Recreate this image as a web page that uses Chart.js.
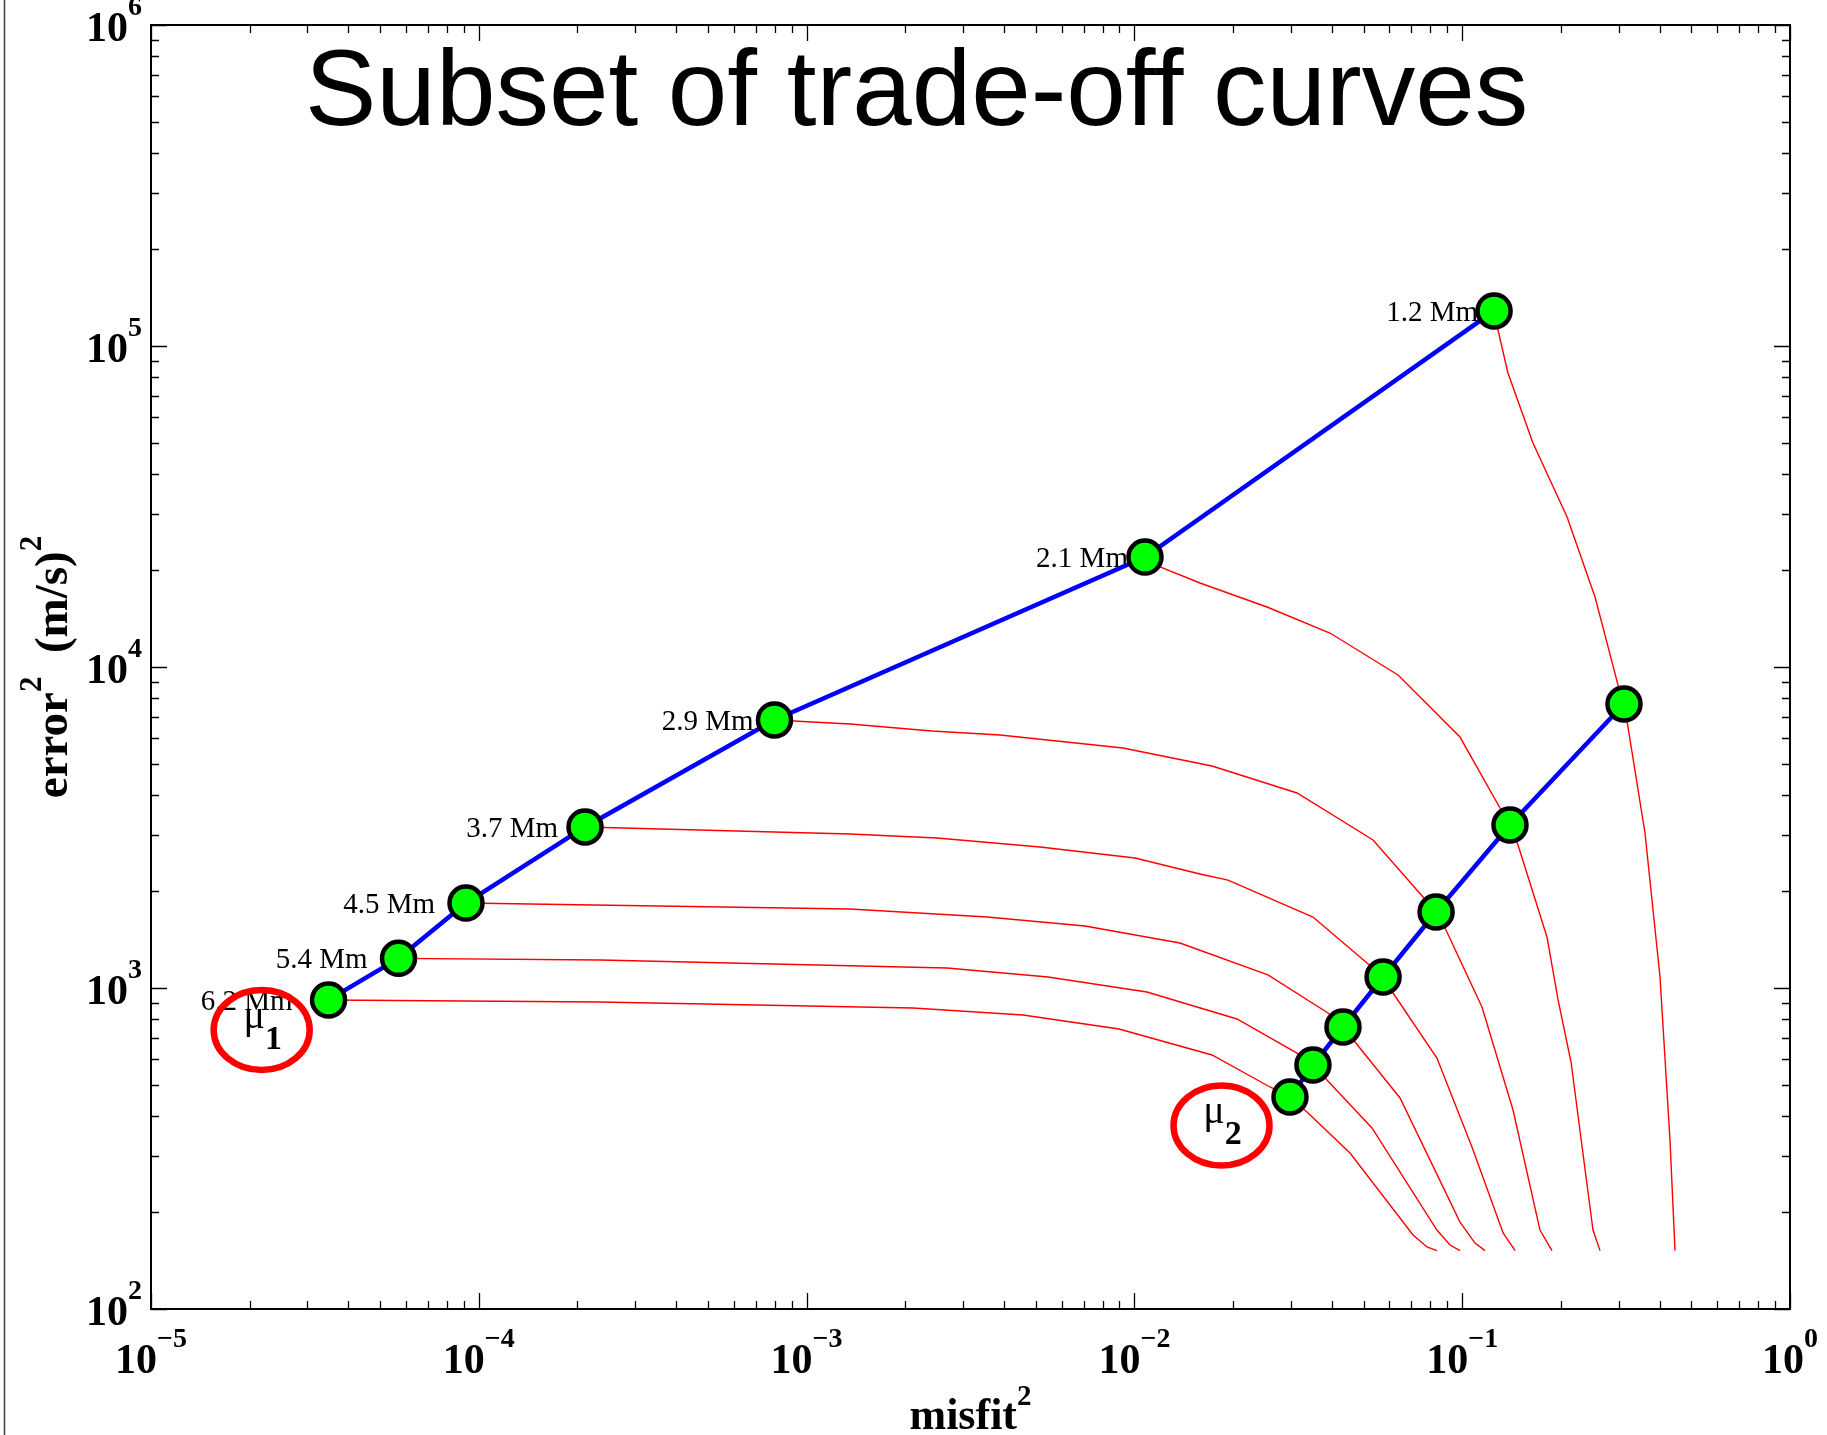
<!DOCTYPE html>
<html>
<head>
<meta charset="utf-8">
<script src="https://cdn.jsdelivr.net/npm/chart.js@4/dist/chart.umd.min.js"></script>
<style>
html,body{margin:0;padding:0;background:#fff;}
canvas{display:block;}
</style>
</head>
<body>
<canvas id="c" width="1827" height="1435"></canvas>
<script>
// ---------------- DATA ----------------
const chartTitle = 'Subset of trade-off curves';
const xTitleParts = ['misfit', '2'];
const yTitleParts = ['error', '2', '  (m/s)', '2'];

const xTickValues = [1e-5, 1e-4, 1e-3, 1e-2, 1e-1, 1];
const xTickLabels = ['10^−5', '10^−4', '10^−3', '10^−2', '10^−1', '10^0'];
const yTickValues = [1e2, 1e3, 1e4, 1e5, 1e6];
const yTickLabels = ['10^2', '10^3', '10^4', '10^5', '10^6'];

const rangeLabels = ['1.2 Mm', '2.1 Mm', '2.9 Mm', '3.7 Mm', '4.5 Mm', '5.4 Mm', '6.2 Mm'];
const upperMisfit = [0.1251, 0.01077, 0.000798, 0.0002109, 0.0000914, 0.0000569, 0.0000348];
const upperError  = [128600, 22000, 6840, 3175, 1839, 1237, 918];
const lowerMisfit = [0.3116, 0.1399, 0.08324, 0.05737, 0.04328, 0.03505, 0.02983];
const lowerError  = [7667, 3219, 1725, 1082, 756, 575.6, 457.5];

// trade-off curves (one per range)
const curve12Misfit = [0.1251, 0.1286, 0.1379, 0.1644, 0.2089, 0.2542, 0.2987, 0.3116, 0.3204, 0.3611, 0.4013, 0.4304, 0.4459];
const curve12Error  = [128600, 112100, 82400, 49860, 29330, 16530, 8788, 7667, 6505, 3040, 1082, 336, 152];
const curve21Misfit = [0.01077, 0.01197, 0.01585, 0.02538, 0.0395, 0.06372, 0.09846, 0.1304, 0.1399, 0.1480, 0.1814, 0.1961, 0.2148, 0.2506, 0.2633];
const curve21Error  = [22000, 20490, 18270, 15380, 12760, 9443, 6051, 3637, 3219, 2789, 1442, 918, 588, 176.2, 152];
const curve29Misfit = [0.000798, 0.001357, 0.002413, 0.003891, 0.00923, 0.01725, 0.03134, 0.05345, 0.07594, 0.08324, 0.08864, 0.1149, 0.1429, 0.1727, 0.1879];
const curve29Error  = [6840, 6644, 6318, 6140, 5593, 4915, 4050, 2891, 1920, 1725, 1538, 872.8, 416.8, 176.2, 152];
const curve37Misfit = [0.0002109, 0.001357, 0.002499, 0.005154, 0.01004, 0.01585, 0.0193, 0.03505, 0.05124, 0.05737, 0.06152, 0.08373, 0.1071, 0.1333, 0.145];
const curve37Error  = [3175, 3018, 2933, 2750, 2541, 2265, 2169, 1664, 1196, 1082, 964.7, 605, 319.6, 172.5, 152];
const curve45Misfit = [0.0000914, 0.001357, 0.003551, 0.007069, 0.01377, 0.02555, 0.03895, 0.04328, 0.0471, 0.06462, 0.09846, 0.1094, 0.1174];
const curve45Error  = [1839, 1763, 1664, 1560, 1381, 1098, 835.9, 756, 678.6, 454.3, 186.6, 160.5, 152];
const curve54Misfit = [0.0000569, 0.0002343, 0.002682, 0.00545, 0.01092, 0.02056, 0.03134, 0.03505, 0.03868, 0.05306, 0.08373, 0.09179, 0.09846];
const curve54Error  = [1237, 1222, 1154, 1082, 971.7, 800.7, 627, 575.6, 516.9, 366.4, 176.2, 158.2, 152];
const curve62Misfit = [0.00003055, 0.0000348, 0.0002343, 0.002112, 0.004573, 0.008975, 0.01725, 0.02592, 0.02983, 0.03361, 0.04547, 0.07079, 0.0781, 0.08373];
const curve62Error  = [918, 918, 904.4, 866.6, 823.9, 745, 618.4, 491.6, 457.5, 410.9, 306.2, 170.1, 156, 152];

// circled annotations
const muSubscripts = ['1', '2'];
const muMisfit = [0.00002176, 0.01844];
const muError  = [740, 373];

// ---------------- STYLE ----------------
const labelGap = [16, 17, 21, 27, 31, 31, 36];
const SERIF = '"Liberation Serif", "Times New Roman", serif';
const SANS = '"Liberation Sans", Arial, sans-serif';

function pts(xs, ys) { return xs.map((v, i) => ({ x: v, y: ys[i] })); }

const curves = [
  [curve12Misfit, curve12Error], [curve21Misfit, curve21Error], [curve29Misfit, curve29Error],
  [curve37Misfit, curve37Error], [curve45Misfit, curve45Error], [curve54Misfit, curve54Error],
  [curve62Misfit, curve62Error]
];

const markerStyle = {
  showLine: true, borderColor: '#0000ff', borderWidth: 4.5,
  pointRadius: 16.5, pointBorderWidth: 4.5, pointBackgroundColor: '#00ff00',
  pointBorderColor: '#000000', order: 0, tension: 0
};

const datasets = [
  Object.assign({ label: 'upper', data: pts(upperMisfit, upperError) }, markerStyle),
  Object.assign({ label: 'lower', data: pts(lowerMisfit, lowerError) }, markerStyle)
].concat(curves.map((c, i) => ({
  label: 'curve ' + rangeLabels[i], data: pts(c[0], c[1]), showLine: true,
  borderColor: '#ff0000', borderWidth: 1.4, pointRadius: 0, order: 1, tension: 0
})));

function splitPow(s) { const p = s.split('^'); return { base: p[0], exp: p[1] }; }

function drawPow(ctx, label, x, yBase, align) {
  const { base, exp } = splitPow(label);
  const fB = 'bold 42px ' + SERIF, fE = 'bold 28px ' + SERIF;
  ctx.font = fB; const wb = ctx.measureText(base).width;
  ctx.font = fE; const we = ctx.measureText(exp).width;
  const tot = wb + we;
  let sx = align === 'right' ? x - tot : x - tot / 2;
  ctx.textAlign = 'left'; ctx.textBaseline = 'alphabetic';
  ctx.font = fB; ctx.fillText(base, sx, yBase);
  ctx.font = fE; ctx.fillText(exp, sx + wb, yBase - 26);
}

function logTicks(min, max) {
  const out = [];
  const e0 = Math.round(Math.log10(min)), e1 = Math.round(Math.log10(max));
  for (let e = e0; e <= e1; e++) {
    out.push({ v: Math.pow(10, e), major: true });
    if (e < e1) for (let m = 2; m <= 9; m++) out.push({ v: m * Math.pow(10, e), major: false });
  }
  return out;
}

const decor = {
  id: 'decor',
  beforeDraw(chart) {
    const ctx = chart.ctx;
    ctx.save();
    ctx.fillStyle = '#ffffff';
    ctx.fillRect(0, 0, chart.width, chart.height);
    ctx.strokeStyle = '#404040'; ctx.lineWidth = 1.5;
    ctx.beginPath(); ctx.moveTo(4.5, 0); ctx.lineTo(4.5, chart.height); ctx.stroke();
    ctx.restore();
  },
  beforeDatasetsDraw(chart) {
    const { ctx, scales: { x, y } } = chart;
    ctx.save();
    // range labels
    ctx.fillStyle = '#000'; ctx.font = '29px ' + SERIF;
    ctx.textAlign = 'right'; ctx.textBaseline = 'middle';
    rangeLabels.forEach((t, i) => {
      const px = x.getPixelForValue(upperMisfit[i]);
      const py = y.getPixelForValue(upperError[i]);
      ctx.fillText(t, px - labelGap[i], py + 2);
    });
    // circled mu annotations
    muSubscripts.forEach((s, i) => {
      const cx = x.getPixelForValue(muMisfit[i]);
      const cy = y.getPixelForValue(muError[i]);
      ctx.strokeStyle = '#ff0000'; ctx.lineWidth = 6.5;
      ctx.beginPath(); ctx.ellipse(cx, cy, 48, 40, 0, 0, Math.PI * 2); ctx.stroke();
      ctx.fillStyle = '#000';
      ctx.textAlign = 'left'; ctx.textBaseline = 'alphabetic';
      ctx.font = '40px ' + SERIF; const wm = ctx.measureText('μ').width;
      ctx.font = 'bold 34px ' + SERIF; const ws = ctx.measureText(s).width;
      const sx = cx - (wm + ws) / 2 + 1;
      ctx.font = '40px ' + SERIF; ctx.fillText('μ', sx, cy - 2);
      ctx.font = 'bold 34px ' + SERIF; ctx.fillText(s, sx + wm, cy + 19);
    });
    ctx.restore();
  },
  afterDatasetsDraw(chart) {
    const { ctx, chartArea: a, scales: { x, y } } = chart;
    ctx.save();
    // frame
    ctx.strokeStyle = '#000'; ctx.lineWidth = 2;
    ctx.strokeRect(a.left, a.top, a.right - a.left, a.bottom - a.top);
    // ticks (inward, all four sides)
    ctx.lineWidth = 1.3;
    ctx.beginPath();
    logTicks(x.min, x.max).forEach(t => {
      const px = Math.round(x.getPixelForValue(t.v)) + 0.5;
      const L = t.major ? 16 : 8;
      ctx.moveTo(px, a.bottom); ctx.lineTo(px, a.bottom - L);
      ctx.moveTo(px, a.top); ctx.lineTo(px, a.top + L);
    });
    logTicks(y.min, y.max).forEach(t => {
      const py = Math.round(y.getPixelForValue(t.v)) + 0.5;
      const L = t.major ? 16 : 8;
      ctx.moveTo(a.left, py); ctx.lineTo(a.left + L, py);
      ctx.moveTo(a.right, py); ctx.lineTo(a.right - L, py);
    });
    ctx.stroke();
    // tick labels
    ctx.fillStyle = '#000';
    xTickValues.forEach((v, i) => drawPow(ctx, xTickLabels[i], x.getPixelForValue(v), a.bottom + 64, 'center'));
    yTickValues.forEach((v, i) => drawPow(ctx, yTickLabels[i], a.left - 9, y.getPixelForValue(v) + 16, 'right'));
    // x axis title
    const fT = 'bold 44px ' + SERIF, fS = 'bold 29px ' + SERIF;
    ctx.font = fT; const w1 = ctx.measureText(xTitleParts[0]).width;
    ctx.font = fS; const w2 = ctx.measureText(xTitleParts[1]).width;
    const xc = (a.left + a.right) / 2;
    let sx = xc - (w1 + w2) / 2;
    ctx.textAlign = 'left'; ctx.textBaseline = 'alphabetic';
    ctx.font = fT; ctx.fillText(xTitleParts[0], sx, 1429);
    ctx.font = fS; ctx.fillText(xTitleParts[1], sx + w1, 1429 - 24);
    // y axis title (rotated)
    const fTy = 'bold 47px ' + SERIF, fSy = 'bold 31px ' + SERIF;
    ctx.save();
    ctx.translate(67, (a.top + a.bottom) / 2);
    ctx.rotate(-Math.PI / 2);
    const fonts = [fTy, fSy, fTy, fSy];
    const ws = yTitleParts.map((t, i) => { ctx.font = fonts[i]; return ctx.measureText(t).width; });
    let tx = -ws.reduce((p, q) => p + q, 0) / 2;
    yTitleParts.forEach((t, i) => {
      ctx.font = fonts[i];
      ctx.fillText(t, tx, i % 2 ? -26 : 0);
      tx += ws[i];
    });
    ctx.restore();
    // chart title
    ctx.font = '107px ' + SANS; ctx.textAlign = 'left'; ctx.textBaseline = 'alphabetic';
    ctx.fillText(chartTitle, 305, 125);
    ctx.restore();
  }
};

new Chart(document.getElementById('c'), {
  type: 'scatter',
  data: { datasets },
  options: {
    responsive: false,
    animation: false,
    devicePixelRatio: 1,
    layout: { padding: { left: 151, right: 37, top: 25, bottom: 126 } },
    plugins: { legend: { display: false }, tooltip: { enabled: false }, title: { display: false } },
    scales: {
      x: { type: 'logarithmic', min: 1e-5, max: 1, display: false },
      y: { type: 'logarithmic', min: 1e2, max: 1e6, display: false }
    }
  },
  plugins: [decor]
});
</script>
</body>
</html>
